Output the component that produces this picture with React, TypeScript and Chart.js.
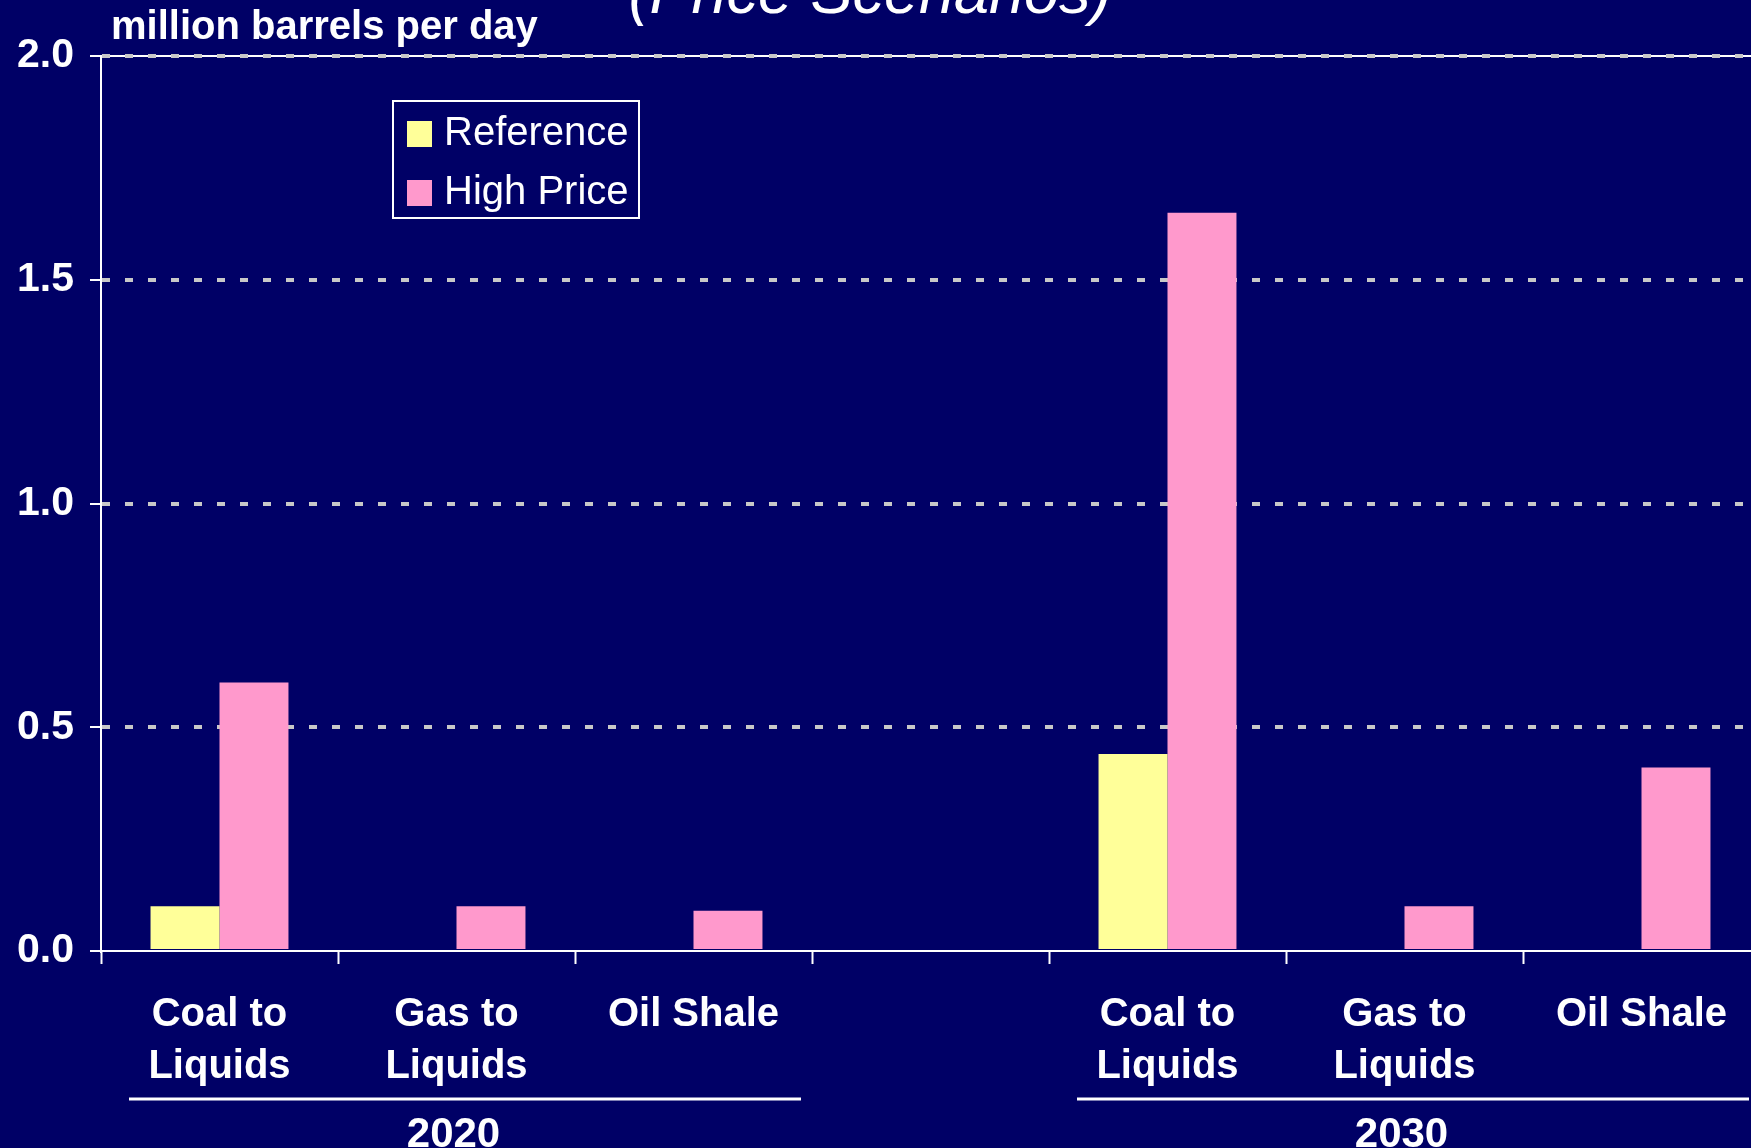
import React, { useEffect, useRef } from 'react';
import { Chart, registerables } from 'chart.js';

Chart.register(...registerables);

const CATEGORIES: (string | string[])[] = [
  ['Coal to', 'Liquids'],
  ['Gas to', 'Liquids'],
  'Oil Shale',
  '',
  ['Coal to', 'Liquids'],
  ['Gas to', 'Liquids'],
  'Oil Shale',
];
const REFERENCE = [0.1, 0, 0, null, 0.44, 0, 0];
const HIGH_PRICE = [0.6, 0.1, 0.09, null, 1.65, 0.1, 0.41];
const SERIES_NAMES = ['Reference', 'High Price'];
const GROUPS = [
  { label: '2020', from: 0, to: 2 },
  { label: '2030', from: 4, to: 6 },
];
const Y_MIN = 0;
const Y_MAX = 2;
const Y_STEP = 0.5;
const TITLE = '(Price Scenarios)';
const Y_UNIT = 'million barrels per day';

const FONT = "'Liberation Sans', Arial, sans-serif";
const BG = '#000066';
const YELLOW = '#FFFF99';
const PINK = '#FF99CC';

const overlayPlugin = {
  id: 'overlay',
  beforeDraw(chart: any) {
    const { ctx, chartArea } = chart;
    ctx.save();
    ctx.strokeStyle = '#ffffff';
    ctx.lineWidth = 2;
    ctx.beginPath();
    ctx.moveTo(chartArea.left, chartArea.top);
    ctx.lineTo(chartArea.right, chartArea.top);
    ctx.stroke();
    ctx.restore();
  },
  afterDraw(chart: any) {
    const { ctx, chartArea } = chart;
    const xs = chart.scales.x;
    ctx.save();
    // cut-off title
    ctx.fillStyle = '#ffffff';
    ctx.font = `italic 63px ${FONT}`;
    ctx.textAlign = 'center';
    ctx.textBaseline = 'alphabetic';
    ctx.fillText(TITLE, 870, 13);

    // unit label
    ctx.font = `bold 40px ${FONT}`;
    ctx.textAlign = 'left';
    ctx.fillText(Y_UNIT, chartArea.left + 10, 39);

    // legend
    const bx = chartArea.left + 292;
    const by = chartArea.top + 45;
    ctx.strokeStyle = '#ffffff';
    ctx.lineWidth = 2;
    ctx.strokeRect(bx, by, 246, 117);
    const rows = [33, 92];
    chart.data.datasets.forEach((ds: any, i: number) => {
      const cy = by + rows[i];
      ctx.fillStyle = ds.backgroundColor;
      ctx.fillRect(bx + 14, cy - 13, 25, 26);
      ctx.fillStyle = '#ffffff';
      ctx.font = `40px ${FONT}`;
      ctx.textAlign = 'left';
      ctx.textBaseline = 'middle';
      ctx.fillText(ds.label, bx + 51, cy);
    });

    // group labels
    const n = chart.data.labels.length;
    const cw = (chartArea.right - chartArea.left) / n;
    GROUPS.forEach((g) => {
      const start = xs.getPixelForValue(g.from) - cw / 2;
      const end = xs.getPixelForValue(g.to) + cw / 2;
      ctx.strokeStyle = '#ffffff';
      ctx.lineWidth = 3;
      ctx.beginPath();
      ctx.moveTo(start + 28, chartArea.bottom + 148);
      ctx.lineTo(end - 11, chartArea.bottom + 148);
      ctx.stroke();
      ctx.fillStyle = '#ffffff';
      ctx.font = `bold 42px ${FONT}`;
      ctx.textAlign = 'center';
      ctx.textBaseline = 'alphabetic';
      ctx.fillText(g.label, (start + end) / 2 - 3, chartArea.bottom + 196);
    });
    ctx.restore();
  },
};

export default function App() {
  const ref = useRef<HTMLCanvasElement | null>(null);

  useEffect(() => {
    if (!ref.current) return;
    const chart = new Chart(ref.current, {
      type: 'bar',
      data: {
        labels: CATEGORIES as any,
        datasets: [
          {
            label: SERIES_NAMES[0],
            data: REFERENCE as any,
            backgroundColor: YELLOW,
            borderWidth: 0,
            categoryPercentage: 0.582,
            barPercentage: 1.0,
          },
          {
            label: SERIES_NAMES[1],
            data: HIGH_PRICE as any,
            backgroundColor: PINK,
            borderWidth: 0,
            categoryPercentage: 0.582,
            barPercentage: 1.0,
          },
        ],
      },
      options: {
        responsive: false,
        maintainAspectRatio: false,
        devicePixelRatio: 1,
        animation: false,
        layout: { padding: { top: 56, left: 0, right: 0, bottom: 0 } },
        plugins: {
          legend: { display: false },
          tooltip: { enabled: false },
          title: { display: false },
        },
        scales: {
          x: {
            offset: true,
            grid: {
              display: true,
              offset: true,
              drawOnChartArea: false,
              drawTicks: true,
              tickLength: 13,
              tickColor: '#ffffff',
              tickWidth: 2,
              color: '#ffffff',
            },
            border: { display: true, color: '#ffffff', width: 2 },
            ticks: {
              color: '#ffffff',
              font: { family: FONT, size: 40, weight: 'bold', lineHeight: 1.3 },
              padding: 25,
              autoSkip: false,
              maxRotation: 0,
              minRotation: 0,
            },
            afterFit: (scale: any) => {
              scale.height = 197;
            },
          },
          y: {
            min: Y_MIN,
            max: Y_MAX,
            grid: {
              display: true,
              drawTicks: true,
              tickLength: 11,
              tickColor: '#ffffff',
              tickWidth: 2,
              tickBorderDash: [],
              lineWidth: 4,
              color: (ctx: any) => (ctx.tick && ctx.tick.value === 0 ? 'rgba(0,0,0,0)' : '#C8C8C8'),
            },
            border: { display: true, color: '#ffffff', width: 2, dash: [8, 15] },
            ticks: {
              stepSize: Y_STEP,
              color: '#ffffff',
              font: { family: FONT, size: 41, weight: 'bold' },
              padding: 16,
              callback: (v: any) => Number(v).toFixed(1),
            },
            afterFit: (scale: any) => {
              scale.width = 101;
            },
          },
        },
      } as any,
      plugins: [overlayPlugin],
    });
    return () => chart.destroy();
  }, []);

  return (
    <div
      style={{
        position: 'fixed',
        left: 0,
        top: 0,
        width: 1751,
        height: 1148,
        overflow: 'hidden',
        background: BG,
      }}
    >
      <canvas
        ref={ref}
        width={1760}
        height={1148}
        style={{ display: 'block', width: 1760, height: 1148 }}
      />
    </div>
  );
}
